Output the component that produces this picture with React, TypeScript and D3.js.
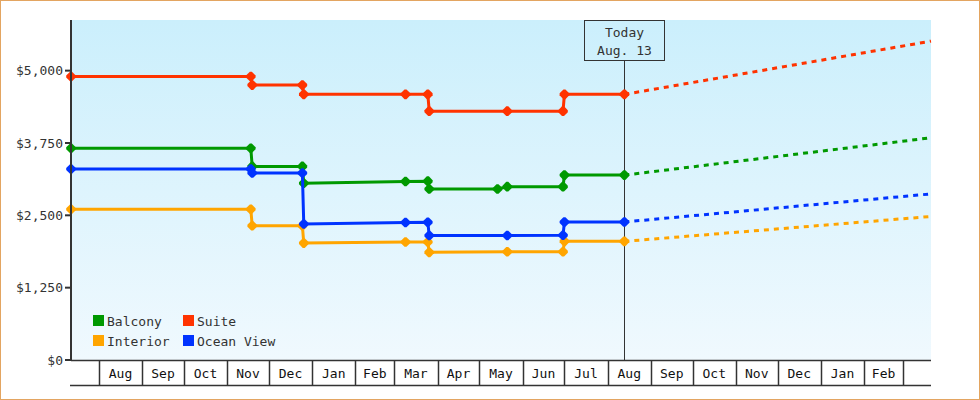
import React, { useEffect, useRef } from "react";
import * as d3 from "d3";

// price history, one array per cabin type: [date, price]
const balconyHistory: [string, number][] = [
  ["2012-07-12", 3660], ["2012-11-18", 3660], ["2012-11-19", 3345],
  ["2012-12-25", 3345], ["2012-12-26", 3055], ["2013-03-09", 3085],
  ["2013-03-25", 3090], ["2013-03-26", 2955], ["2013-05-14", 2955],
  ["2013-05-21", 2995], ["2013-06-30", 2995], ["2013-07-01", 3195],
  ["2013-08-13", 3195],
];
const suiteHistory: [string, number][] = [
  ["2012-07-12", 4900], ["2012-11-18", 4900], ["2012-11-19", 4750],
  ["2012-12-25", 4750], ["2012-12-26", 4590], ["2013-03-09", 4590],
  ["2013-03-25", 4590], ["2013-03-26", 4300], ["2013-05-21", 4300],
  ["2013-06-30", 4300], ["2013-07-01", 4590], ["2013-08-13", 4590],
];
const interiorHistory: [string, number][] = [
  ["2012-07-12", 2605], ["2012-11-18", 2605], ["2012-11-19", 2320],
  ["2012-12-25", 2320], ["2012-12-26", 2020], ["2013-03-09", 2040],
  ["2013-03-25", 2040], ["2013-03-26", 1860], ["2013-05-21", 1870],
  ["2013-06-30", 1870], ["2013-07-01", 2050], ["2013-08-13", 2050],
];
const oceanViewHistory: [string, number][] = [
  ["2012-07-12", 3300], ["2012-11-18", 3300], ["2012-11-19", 3230],
  ["2012-12-25", 3230], ["2012-12-26", 2350], ["2013-03-09", 2375],
  ["2013-03-25", 2380], ["2013-03-26", 2150], ["2013-05-21", 2150],
  ["2013-06-30", 2155], ["2013-07-01", 2385], ["2013-08-13", 2385],
];

// forecast end prices (start from today's price)
const forecastEnd = "2014-03-21";
const balconyForecast = 3840;
const suiteForecast = 5510;
const interiorForecast = 2480;
const oceanViewForecast = 2870;

const seriesNames = ["Balcony", "Suite", "Interior", "Ocean View"];
const seriesColors = ["#009900", "#ff3300", "#ffa500", "#0033ff"];
const yTicks = [0, 1250, 2500, 3750, 5000];
const todayDate = "2013-08-13";
const todayLabel = ["Today", "Aug. 13"];
const domainStart = "2012-07-12";
const yMax = 5875;

const FONT = "'DejaVu Sans Mono', 'Liberation Mono', monospace";

const App: React.FC = () => {
  const svgRef = useRef<SVGSVGElement>(null);

  useEffect(() => {
    if (!svgRef.current) return;
    const svg = d3.select(svgRef.current);
    svg.selectAll("*").remove();

    const width = 980;
    const height = 400;
    const margin = { top: 20, right: 49, bottom: 40, left: 71 };
    const parse = d3.timeParse("%Y-%m-%d");

    const x = d3
      .scaleTime()
      .domain([parse(domainStart)!, parse(forecastEnd)!])
      .range([margin.left, width - margin.right]);
    const y = d3
      .scaleLinear()
      .domain([0, yMax])
      .range([height - margin.bottom, margin.top]);

    const histories = [balconyHistory, suiteHistory, interiorHistory, oceanViewHistory];
    const forecasts = [balconyForecast, suiteForecast, interiorForecast, oceanViewForecast];

    // frame
    svg
      .append("rect")
      .attr("x", 0.5)
      .attr("y", 0.5)
      .attr("width", width - 1)
      .attr("height", height - 1)
      .attr("fill", "#fff")
      .attr("stroke", "#e3a561");

    const grad = svg
      .append("defs")
      .append("linearGradient")
      .attr("id", "bg")
      .attr("x1", 0)
      .attr("y1", 0)
      .attr("x2", 0)
      .attr("y2", 1);
    grad.append("stop").attr("offset", "0%").attr("stop-color", "#cbeffc");
    grad.append("stop").attr("offset", "100%").attr("stop-color", "#f0f9fe");

    const [x0, x1] = x.range();
    const [yb, yt] = y.range();

    svg
      .append("rect")
      .attr("x", x0)
      .attr("y", yt)
      .attr("width", x1 - x0)
      .attr("height", yb - yt)
      .attr("fill", "url(#bg)");

    // today marker
    const tx = Math.round(x(parse(todayDate)!)) + 0.5;
    svg
      .append("line")
      .attr("x1", tx)
      .attr("x2", tx)
      .attr("y1", yt + 41)
      .attr("y2", yb)
      .attr("stroke", "#333")
      .attr("stroke-width", 1);
    svg
      .append("rect")
      .attr("x", tx - 40)
      .attr("y", yt + 0.5)
      .attr("width", 80)
      .attr("height", 40)
      .attr("fill", "none")
      .attr("stroke", "#333")
      .attr("stroke-width", 1);
    todayLabel.forEach((t, i) => {
      svg
        .append("text")
        .attr("x", tx)
        .attr("y", yt + 17 + i * 17.5)
        .attr("text-anchor", "middle")
        .style("font-family", FONT)
        .style("font-size", "13px")
        .attr("fill", "#333")
        .text(t);
    });

    const line = d3
      .line<[Date, number]>()
      .x((d) => x(d[0]))
      .y((d) => y(d[1]));

    // chunky diamond marker
    const marker = "M-1,-4.8L1,-4.8L4.8,-1L4.8,1L1,4.8L-1,4.8L-4.8,1L-4.8,-1Z";

    histories.forEach((hist, i) => {
      const pts = hist.map((d) => [parse(d[0])!, d[1]] as [Date, number]);
      const last = pts[pts.length - 1];
      const proj: [Date, number][] = [last, [parse(forecastEnd)!, forecasts[i]]];

      svg
        .append("path")
        .datum(proj)
        .attr("d", line)
        .attr("fill", "none")
        .attr("stroke", seriesColors[i])
        .attr("stroke-width", 3)
        .attr("stroke-dasharray", "5,5");

      svg
        .append("path")
        .datum(pts)
        .attr("d", line)
        .attr("fill", "none")
        .attr("stroke", seriesColors[i])
        .attr("stroke-width", 3);

      svg
        .append("g")
        .selectAll("path")
        .data(pts)
        .enter()
        .append("path")
        .attr("d", marker)
        .attr("transform", (d) => `translate(${x(d[0])},${y(d[1])})`)
        .attr("fill", seriesColors[i]);
    });

    // y axis
    const ax = svg.append("g");
    ax.append("line")
      .attr("x1", x0)
      .attr("x2", x0)
      .attr("y1", yt)
      .attr("y2", yb + 1)
      .attr("stroke", "#333")
      .attr("stroke-width", 2);
    yTicks.forEach((v) => {
      ax.append("line")
        .attr("x1", x0 - 6)
        .attr("x2", x0)
        .attr("y1", y(v))
        .attr("y2", y(v))
        .attr("stroke", "#333")
        .attr("stroke-width", 2);
      ax.append("text")
        .attr("x", x0 - 8)
        .attr("y", y(v))
        .attr("dy", "0.35em")
        .attr("text-anchor", "end")
        .style("font-family", FONT)
        .style("font-size", "13px")
        .attr("fill", "#333")
        .text(d3.format("$,")(v));
    });

    // x axis: month cells
    const xa = svg.append("g");
    xa.append("line")
      .attr("x1", x0)
      .attr("x2", x1)
      .attr("y1", yb + 0.5)
      .attr("y2", yb + 0.5)
      .attr("stroke", "#333")
      .attr("stroke-width", 1.5);
    xa.append("line")
      .attr("x1", x0 - 1)
      .attr("x2", x1)
      .attr("y1", yb + 25.5)
      .attr("y2", yb + 25.5)
      .attr("stroke", "#333")
      .attr("stroke-width", 1.5);

    const [d0, d1] = x.domain();
    const months = d3.timeMonth.range(d3.timeMonth.ceil(d0), d1);
    months.forEach((m, i) => {
      const mx = Math.round(x(m)) + 0.5;
      xa.append("line")
        .attr("x1", mx)
        .attr("x2", mx)
        .attr("y1", yb)
        .attr("y2", yb + 25)
        .attr("stroke", "#333")
        .attr("stroke-width", 1.5);
      const next = months[i + 1];
      if (next) {
        xa.append("text")
          .attr("x", (x(m) + x(next)) / 2)
          .attr("y", yb + 17.5)
          .attr("text-anchor", "middle")
          .style("font-family", FONT)
          .style("font-size", "13px")
          .attr("fill", "#111")
          .text(d3.timeFormat("%b")(m));
      }
    });

    // legend
    const lg = svg.append("g").attr("transform", `translate(${x0 + 22},${yb - 45})`);
    seriesNames.forEach((name, i) => {
      const col = i % 2;
      const row = Math.floor(i / 2);
      const g = lg.append("g").attr("transform", `translate(${col * 90},${row * 20})`);
      g.append("rect")
        .attr("width", 11)
        .attr("height", 11)
        .attr("fill", seriesColors[i]);
      g.append("text")
        .attr("x", 14)
        .attr("y", 10.5)
        .style("font-family", FONT)
        .style("font-size", "13px")
        .attr("fill", "#333")
        .text(name);
    });
  }, []);

  return (
    <svg
      ref={svgRef}
      width={980}
      height={400}
      style={{ position: "absolute", left: 0, top: 0 }}
    />
  );
};

export default App;
